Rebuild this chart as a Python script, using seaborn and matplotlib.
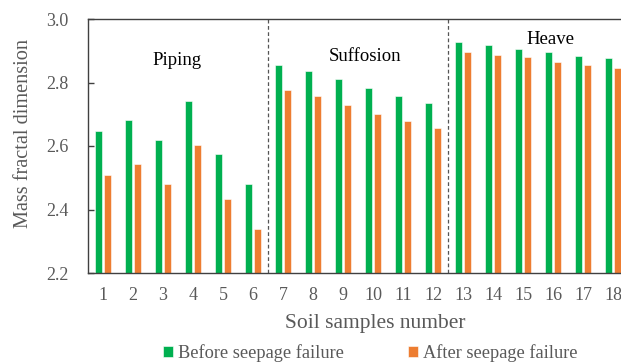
import matplotlib
matplotlib.use("Agg")
import matplotlib.pyplot as plt
import seaborn as sns
import pandas as pd

samples = [str(i) for i in range(1, 19)]
before = [2.648, 2.681, 2.620, 2.742, 2.574, 2.479,
          2.855, 2.836, 2.810, 2.782, 2.757, 2.735,
          2.926, 2.918, 2.906, 2.896, 2.885, 2.877]
after = [2.508, 2.542, 2.479, 2.602, 2.432, 2.338,
         2.776, 2.756, 2.728, 2.702, 2.678, 2.656,
         2.896, 2.887, 2.879, 2.866, 2.855, 2.846]
series_names = ["Before seepage failure", "After seepage failure"]
groups = ["Piping", "Suffosion", "Heave"]

df = pd.DataFrame({
    "sample": samples * 2,
    "value": before + after,
    "state": [series_names[0]] * len(samples) + [series_names[1]] * len(samples),
})

sns.set_style("white")
plt.rcParams["font.family"] = ["Liberation Serif", "DejaVu Serif"]

W, H = 621, 362
fig = plt.figure(figsize=(W / 100, H / 100), dpi=100)
ax = fig.add_axes([88 / W, 1 - 273 / H, (628 - 88) / W, (273 - 19) / H])

palette = {series_names[0]: "#00B050", series_names[1]: "#ED7D31"}
sns.barplot(data=df, x="sample", y="value", hue="state", order=samples,
            hue_order=series_names, palette=palette, saturation=1,
            width=0.58, gap=0.18, edgecolor="white", linewidth=0.4,
            ax=ax, legend=True)

ax.set_ylim(2.2, 3.0)
ax.set_xlim(-0.5, 17.5)
ax.set_yticks([2.2, 2.4, 2.6, 2.8, 3.0])
ax.set_yticklabels(["2.2", "2.4", "2.6", "2.8", "3.0"])

gray = "#595959"
ax.tick_params(axis="y", direction="in", length=4, width=1, color="#404040",
               labelsize=13, labelcolor=gray, pad=14, left=True)
ax.tick_params(axis="x", length=0, labelsize=13, labelcolor=gray, pad=10)
for side in ["left", "top", "bottom"]:
    ax.spines[side].set_color("#404040")
    ax.spines[side].set_linewidth(1.0)
ax.spines["right"].set_visible(False)

ax.set_xlabel("Soil samples number", fontsize=15.5, color=gray)
ax.set_ylabel("Mass fractal dimension", fontsize=14.6, color=gray)
ax.xaxis.set_label_coords(0.532, -0.163)
ax.yaxis.set_label_coords(-0.102, 0.551)

# boundaries between failure types
for xb in [5.5, 11.5]:
    ax.axvline(xb, color="#555555", linestyle=(0, (3, 2)), linewidth=0.9)

label_pos = [(2.47, 2.868), (8.73, 2.883), (14.9, 2.937)]
for name, (xp, yp) in zip(groups, label_pos):
    ax.text(xp, yp, name, ha="center", va="center", fontsize=13.5, color="black")

handles, labels = ax.get_legend_handles_labels()
ax.get_legend().remove()
fig.legend(handles, labels, loc="center", bbox_to_anchor=(0.596, 0.024),
           ncol=2, frameon=False, fontsize=13.2, handlelength=0.55,
           handleheight=0.55, handletextpad=0.25, columnspacing=3.5,
           labelcolor=gray)

fig.savefig("out.png", dpi=100)
